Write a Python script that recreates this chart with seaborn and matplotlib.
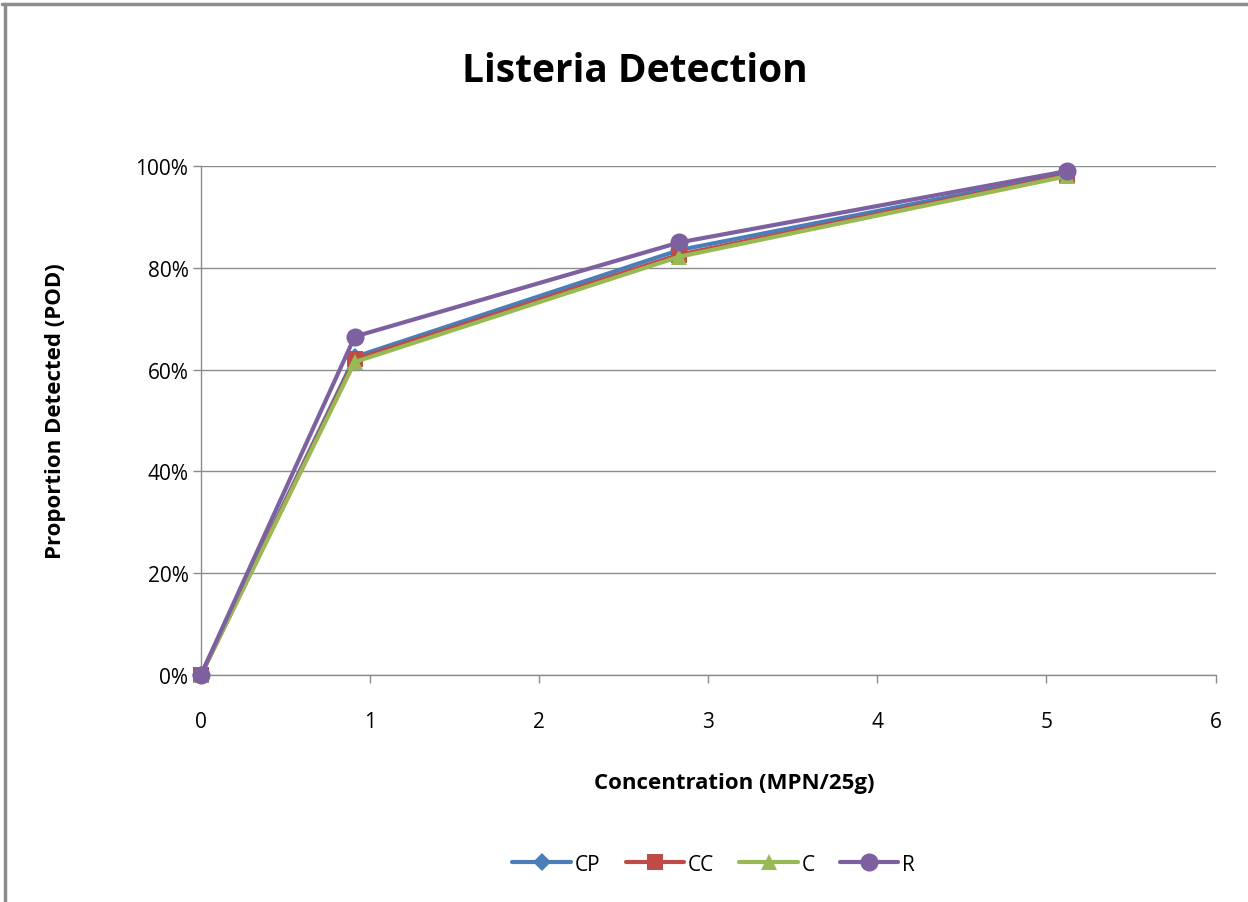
import pandas as pd
import matplotlib
matplotlib.use("Agg")
import matplotlib.pyplot as plt
import seaborn as sns
from matplotlib.lines import Line2D
from matplotlib.ticker import PercentFormatter

# --- Data ---
concentration = [0, 0.91, 2.83, 5.12]
pod_cp = [0.0, 0.625, 0.835, 0.985]
pod_cc = [0.0, 0.620, 0.826, 0.982]
pod_c = [0.0, 0.615, 0.822, 0.980]
pod_r = [0.0, 0.665, 0.850, 0.990]
series_names = ["CP", "CC", "C", "R"]

colors = {"CP": "#4A7EBB", "CC": "#BE4B48", "C": "#98B954", "R": "#7D60A0"}
markers = {"CP": "D", "CC": "s", "C": "^", "R": "o"}
msizes = {"CP": 9, "CC": 11, "C": 12, "R": 13}

df = pd.DataFrame({
    "conc": concentration * 4,
    "pod": pod_cp + pod_cc + pod_c + pod_r,
    "series": [s for s in series_names for _ in concentration],
})

sns.set_style("white")
plt.rcParams["font.family"] = ["Open Sans", "DejaVu Sans"]
plt.rcParams["text.color"] = "black"
plt.rcParams["axes.labelcolor"] = "black"

fig = plt.figure(figsize=(12.48, 9.03), dpi=100)
ax = fig.add_axes([0.161, 0.2514, 0.813, 0.5636])

for name in series_names:
    sub = df[df["series"] == name]
    sns.lineplot(
        data=sub, x="conc", y="pod", ax=ax,
        color=colors[name], linewidth=3, marker=markers[name],
        markersize=msizes[name], markeredgewidth=0, label=name,
        clip_on=False, zorder=3,
    )

ax.set_xlim(0, 6)
ax.set_ylim(0, 1)
ax.set_xticks(range(0, 7))
ax.set_yticks([0, 0.2, 0.4, 0.6, 0.8, 1.0])
ax.yaxis.set_major_formatter(PercentFormatter(1.0, decimals=0))
ax.grid(axis="y", color="#8C8C8C", linewidth=1)
ax.grid(axis="x", visible=False)
for side in ["top", "right"]:
    ax.spines[side].set_visible(False)
for side in ["left", "bottom"]:
    ax.spines[side].set_color("#8C8C8C")
    ax.spines[side].set_linewidth(1)
ax.tick_params(axis="both", direction="out", length=6, width=1, color="#8C8C8C",
               labelsize=15, labelcolor="#000000", bottom=True, left=True)
ax.tick_params(axis="x", pad=20)
ax.tick_params(axis="y", pad=3)

ax.set_xlabel("Concentration (MPN/25g)", fontsize=16, fontweight="bold")
ax.xaxis.set_label_coords(0.526, -0.19)
ax.set_ylabel("Proportion Detected (POD)", fontsize=16, fontweight="bold")
ax.yaxis.set_label_coords(-0.133, 0.52)
fig.text(0.509, 0.921, "Listeria Detection", ha="center", va="center",
         fontsize=28, fontweight="bold")

handles, labels = ax.get_legend_handles_labels()
ax.legend(handles, labels, loc="center", bbox_to_anchor=(0.572, 0.042),
          bbox_transform=fig.transFigure, ncol=4, frameon=False,
          fontsize=15, handlelength=2.8, columnspacing=1.2, handletextpad=0.2)

# chart frame (top and left edges visible)
fig.add_artist(Line2D([0.002, 1.0], [0.995, 0.995], color="#8C8C8C", linewidth=2.5,
                      transform=fig.transFigure))
fig.add_artist(Line2D([0.004, 0.004], [0.0, 0.995], color="#8C8C8C", linewidth=2.5,
                      transform=fig.transFigure))

fig.savefig("out.png", dpi=100)
